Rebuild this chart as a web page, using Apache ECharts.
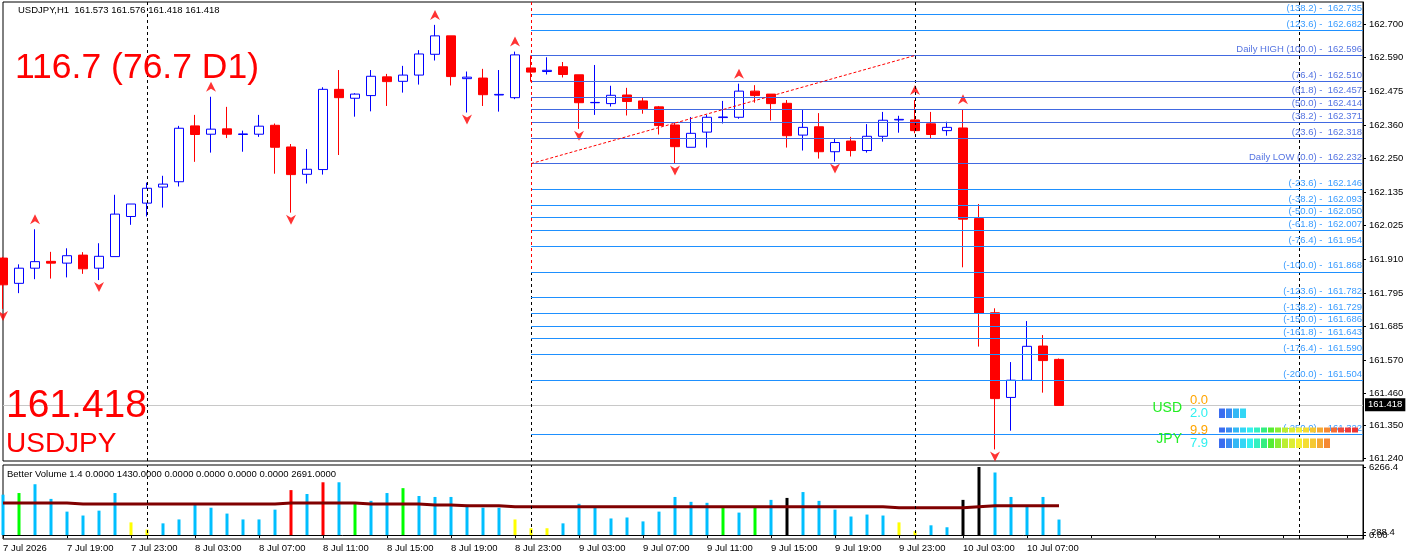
<!DOCTYPE html>
<html>
<head>
<meta charset="utf-8">
<script src="https://cdn.jsdelivr.net/npm/echarts@6/dist/echarts.min.js"></script>
<style>
  html, body { margin: 0; padding: 0; background: #fff; }
  #chart { width: 1410px; height: 560px; }
</style>
</head>
<body>
<div id="chart"></div>
<script>
// USDJPY H1 candles, 7 Jul 15:00 .. 10 Jul 09:00
const opens = [161.914,161.829,161.880,161.903,161.897,161.924,161.880,161.919,162.054,162.099,
  162.153,162.171,162.359,162.331,162.349,162.330,162.331,162.361,162.288,162.196,
  162.212,162.482,162.452,162.461,162.524,162.509,162.530,162.600,162.662,162.518,
  162.520,162.463,162.454,162.554,162.542,162.558,162.531,162.437,162.434,162.463,
  162.443,162.423,162.362,162.287,162.338,162.387,162.388,162.476,162.466,162.435,
  162.328,162.356,162.272,162.308,162.276,162.324,162.379,162.379,162.366,162.343,
  162.352,162.047,161.730,161.445,161.503,161.618,161.573];
const closes = [161.824,161.880,161.902,161.897,161.922,161.878,161.920,162.062,162.096,162.149,
  162.163,162.351,162.330,162.348,162.331,162.332,162.358,162.287,162.195,162.213,
  162.482,162.454,162.466,162.526,162.508,162.530,162.601,162.662,162.525,162.523,
  162.464,162.465,162.598,162.540,162.546,162.532,162.437,162.438,162.462,162.441,
  162.417,162.360,162.289,162.334,162.388,162.389,162.476,162.461,162.434,162.326,
  162.354,162.272,162.303,162.276,162.324,162.378,162.381,162.343,162.330,162.354,
  162.045,161.728,161.441,161.503,161.617,161.569,161.418];
const lows = [161.743,161.796,161.843,161.845,161.849,161.861,161.840,161.919,162.026,162.054,
  162.084,162.155,162.238,162.269,162.318,162.272,162.322,162.198,162.067,162.165,
  162.195,162.261,162.390,162.408,162.426,162.471,162.498,162.579,162.495,162.404,
  162.426,162.407,162.449,162.508,162.532,162.522,162.349,162.396,162.424,162.394,
  162.400,162.330,162.232,162.287,162.286,162.367,162.383,162.437,162.377,162.286,
  162.276,162.249,162.239,162.256,162.269,162.306,162.336,162.334,162.318,162.326,
  161.883,161.616,161.270,161.333,161.503,161.461,161.418];
const highs = [161.918,161.893,162.011,161.935,161.947,161.934,161.964,162.127,162.096,162.168,
  162.191,162.359,162.396,162.457,162.423,162.343,162.396,162.367,162.298,162.281,
  162.489,162.547,162.469,162.547,162.534,162.561,162.614,162.699,162.662,162.542,
  162.551,162.547,162.609,162.596,162.590,162.574,162.531,162.564,162.494,162.487,
  162.456,162.426,162.369,162.389,162.396,162.443,162.501,162.496,162.466,162.446,
  162.414,162.402,162.315,162.322,162.365,162.406,162.393,162.446,162.406,162.373,
  162.415,162.096,161.745,161.564,161.702,161.655,161.576];

// fractal arrows (bar indexes)
const fractalUp = [2, 13, 27, 32, 46, 57, 60];
const fractalDown = [0, 6, 18, 29, 36, 42, 52, 62];

// Better Volume
const volumes = [3720,3870,4680,3330,2160,1800,2250,3870,1170,510,
  1080,1440,2850,2520,1980,1440,1440,2340,4140,3780,
  4860,4860,2880,3150,3870,4320,3600,3510,3510,2790,
  2520,2520,1440,630,630,1080,2880,2520,1530,1620,
  1260,2160,3510,3060,2970,2520,2070,2520,3240,3420,
  3960,3150,2340,1710,1890,1800,1170,360,900,720,
  3240,6266,5760,3510,2700,3510,1430];
// b = normal, g = churn, y = low, r = climax, k = climax churn
const volumeKind = 'bgbbbbbbyybbbbbbbbrbrbgbbgbbbbbbyyybbbbbbbbbbgbgbkbbbbbbyybbkkbbbbb'.split('');
const volumeMA = [2960,2960,2960,2960,2960,2870,2870,2870,2870,2870,
  2870,2870,2870,2870,2870,2870,2870,2870,2960,2960,
  2960,2960,2960,2870,2870,2870,2870,2780,2780,2700,
  2700,2700,2610,2610,2610,2610,2610,2610,2610,2610,
  2610,2610,2610,2610,2610,2610,2610,2610,2610,2610,
  2610,2610,2610,2610,2610,2610,2520,2520,2520,2520,
  2520,2610,2691,2691,2691,2691,2691];

// fibo levels of 9 Jul
const fibRatios = [138.2, 123.6, 100.0, 76.4, 61.8, 50.0, 38.2, 23.6, 0.0, -23.6, -38.2, -50.0,
  -61.8, -76.4, -100.0, -123.6, -138.2, -150.0, -161.8, -176.4, -200.0, -250.0];
const fibPrices = [162.735, 162.682, 162.596, 162.510, 162.457, 162.414, 162.371, 162.318, 162.232,
  162.146, 162.093, 162.050, 162.007, 161.954, 161.868, 161.782, 161.729, 161.686, 161.643,
  161.590, 161.504, 161.322];

// axis ticks
const yTickValues = [162.700, 162.590, 162.475, 162.360, 162.250, 162.135, 162.025, 161.910,
  161.795, 161.685, 161.570, 161.460, 161.350, 161.240];
const volTickValues = [6266.4, 0];
const volMinTick = [288.4];
const xTickLabels = ['7 Jul 2026', '7 Jul 19:00', '7 Jul 23:00', '8 Jul 03:00', '8 Jul 07:00',
  '8 Jul 11:00', '8 Jul 15:00', '8 Jul 19:00', '8 Jul 23:00', '9 Jul 03:00', '9 Jul 07:00',
  '9 Jul 11:00', '9 Jul 15:00', '9 Jul 19:00', '9 Jul 23:00', '10 Jul 03:00', '10 Jul 07:00'];
const daySeparators = [9, 33, 57, 81];

// currency strength widget
const strengthNames = ['USD', 'JPY'];
const strengthUpper = [0.0, 9.9];
const strengthLower = [2.0, 7.9];

const slotCount = 86;
const categories = Array.from({ length: slotCount }, (_, i) => String(i));
const last = closes.length - 1;
const fibStart = 33, fibEnd = 57;
const yMin = 161.231, yMax = 162.776;
const volMin = -360, volMax = 6450;
const FONT = 'Liberation Sans, Arial, sans-serif';

const kindColor = { b: '#00bfff', g: '#00ff00', y: '#ffff00', r: '#ff0000', k: '#000000' };
const cellColors = ['#3a6df0', '#3a8af2', '#33b8f5', '#33d6f5', '#33f0f0', '#33f0c0', '#33ee80',
  '#55ee33', '#88ee33', '#bbee33', '#ddee33', '#f5f033', '#f5dd33', '#f5c833', '#f5a833',
  '#f58833', '#f56a33', '#f04a3a', '#ee3a3a', '#ee3333'];

const chart = echarts.init(document.getElementById('chart'));

function fibText(i) {
  const r = fibRatios[i];
  const name = r === 100 ? 'Daily HIGH ' : (r === 0 ? 'Daily LOW ' : '');
  return name + '(' + r.toFixed(1) + ') -  ' + fibPrices[i].toFixed(3);
}

const fibLines = fibRatios.map((r, i) => {
  const inner = r >= 0 && r <= 100;
  return [
    {
      coord: [String(fibStart), fibPrices[i]],
      lineStyle: { color: inner ? '#4169e1' : '#1e90ff', width: 1, type: 'solid' },
      label: {
        show: true, position: 'insideEndTop', formatter: fibText(i),
        color: inner ? '#5574e2' : '#3a9cff', fontSize: 9.5, fontFamily: FONT, distance: [1, 1]
      }
    },
    { coord: [String(slotCount - 1), fibPrices[i]] }
  ];
});

// trend line of the fibo object and its red vertical
fibLines.push([
  { coord: [String(fibStart), fibPrices[8]], lineStyle: { color: '#ff0000', width: 1, type: [3, 2] }, label: { show: false } },
  { coord: [String(fibEnd), fibPrices[2]] }
]);
fibLines.push([
  { coord: [String(fibStart), yMax], lineStyle: { color: '#ff0000', width: 1, type: [3, 3] }, label: { show: false } },
  { coord: [String(fibStart), fibPrices[14]] }
]);

// strength widget graphics
const widget = [];
strengthNames.forEach((name, k) => {
  const baseY = 400 + 30 * k;
  widget.push({
    type: 'text', x: 1182, y: baseY + 8 + k, z: 100,
    style: { text: name, fill: '#22ee22', font: '14px ' + FONT, align: 'right', verticalAlign: 'middle' }
  });
  widget.push({
    type: 'text', x: 1190, y: baseY, z: 100,
    style: { text: strengthUpper[k].toFixed(1), fill: '#ffa500', font: '13px ' + FONT, verticalAlign: 'middle' }
  });
  widget.push({
    type: 'text', x: 1190, y: baseY + 13, z: 100,
    style: { text: strengthLower[k].toFixed(1), fill: '#2ef0f0', font: '13px ' + FONT, verticalAlign: 'middle' }
  });
  const nUp = Math.round(strengthUpper[k] * 2);
  for (let j = 0; j < nUp; j++) {
    widget.push({ type: 'rect', z: 100, shape: { x: 1219 + j * 7, y: baseY - 2.5, width: 6, height: 5 },
      style: { fill: cellColors[j] } });
  }
  const nLo = Math.round(strengthLower[k] * 2);
  for (let j = 0; j < nLo; j++) {
    widget.push({ type: 'rect', z: 100, shape: { x: 1219 + j * 7, y: baseY + 8.5, width: 6, height: 9.5 },
      style: { fill: cellColors[j] } });
  }
});

const f3 = v => v.toFixed(3);

chart.setOption({
  animation: false,
  backgroundColor: '#ffffff',
  grid: [
    { left: 3, right: 47, top: 2, height: 459, show: true, borderColor: '#000', borderWidth: 1, outerBoundsMode: 'none' },
    { left: 3, right: 47, top: 465, height: 74, show: true, borderColor: '#000', borderWidth: 1, outerBoundsMode: 'none' }
  ],
  xAxis: [
    { type: 'category', gridIndex: 0, data: categories, boundaryGap: false, show: false },
    {
      type: 'category', gridIndex: 1, data: categories, boundaryGap: false,
      axisLine: { show: true, lineStyle: { color: '#000' } },
      axisTick: { show: true, interval: 3, length: 3, lineStyle: { color: '#000' } },
      axisLabel: {
        interval: 3, align: 'left', margin: 4, color: '#000', fontSize: 9.5, fontFamily: FONT,
        formatter: (v, i) => xTickLabels[i / 4] || ''
      },
      splitLine: { show: false }
    }
  ],
  yAxis: [
    {
      type: 'value', gridIndex: 0, position: 'right', min: yMin, max: yMax, scale: true,
      splitLine: { show: false },
      axisLine: { show: true, lineStyle: { color: '#000' } },
      axisTick: { show: true, length: 3, customValues: yTickValues, lineStyle: { color: '#000' } },
      axisLabel: { customValues: yTickValues, formatter: f3, color: '#000', fontSize: 9.5, fontFamily: FONT, margin: 6, hideOverlap: false }
    },
    {
      type: 'value', gridIndex: 1, position: 'right', min: volMin, max: volMax,
      splitLine: { show: false },
      axisLine: { show: true, lineStyle: { color: '#000' } },
      axisTick: { show: true, length: 3, customValues: volTickValues, lineStyle: { color: '#000' } },
      axisLabel: {
        customValues: volTickValues, color: '#000', fontSize: 9.5, fontFamily: FONT, margin: 6,
        hideOverlap: false, showMinLabel: true, showMaxLabel: true,
        formatter: v => (v === 0 ? '0.00' : v.toFixed(1))
      }
    },
    {
      // second label set of the volume pane (its minimum line)
      type: 'value', gridIndex: 1, position: 'right', min: volMin, max: volMax,
      splitLine: { show: false }, axisLine: { show: false },
      axisTick: { show: true, length: 3, customValues: volMinTick, lineStyle: { color: '#000' } },
      axisLabel: {
        customValues: volMinTick, color: '#000', fontSize: 9.5, fontFamily: FONT, margin: 8,
        formatter: v => v.toFixed(1)
      }
    }
  ],
  series: [
    {
      // fibo levels, separators
      type: 'line', xAxisIndex: 0, yAxisIndex: 0, data: [], z: 1, silent: true,
      markLine: {
        symbol: 'none', silent: true, animation: false,
        data: daySeparators.map(d => ({ xAxis: String(d), lineStyle: { color: '#000', width: 1, type: [3, 3] }, label: { show: false } }))
          .concat(fibLines)
      }
    },
    {
      type: 'candlestick', xAxisIndex: 0, yAxisIndex: 0, barWidth: 10, z: 3,
      data: opens.map((o, i) => [o, closes[i], lows[i], highs[i]]),
      itemStyle: { color: '#ffffff', color0: '#ff0000', borderColor: '#0000ff', borderColor0: '#ff0000', borderWidth: 1 },
      markLine: {
        symbol: 'none', silent: true, animation: false, z: 0,
        data: [{
          yAxis: closes[last],
          lineStyle: { color: '#c8c8c8', width: 1, type: 'solid' },
          label: {
            show: true, position: 'end', formatter: f3(closes[last]), distance: 2,
            backgroundColor: '#000', color: '#fff', fontSize: 9.5, fontFamily: FONT, padding: [2, 3, 1, 3]
          }
        }]
      }
    },
    {
      type: 'scatter', xAxisIndex: 0, yAxisIndex: 0, z: 4, silent: true,
      symbol: 'path://M5,0 L10,10 L5,7 L0,10 Z', symbolSize: [10, 10], symbolOffset: [0, -10],
      itemStyle: { color: '#ff0000' },
      data: fractalUp.map(i => [String(i), highs[i]])
    },
    {
      type: 'scatter', xAxisIndex: 0, yAxisIndex: 0, z: 4, silent: true,
      symbol: 'path://M0,0 L5,3 L10,0 L5,10 Z', symbolSize: [10, 10], symbolOffset: [0, 7],
      itemStyle: { color: '#ff0000' },
      data: fractalDown.map(i => [String(i), lows[i]])
    },
    {
      type: 'bar', xAxisIndex: 1, yAxisIndex: 1, barWidth: 3, z: 2,
      data: volumes.map((v, i) => ({ value: v, itemStyle: { color: kindColor[volumeKind[i]] } })),
      markLine: {
        symbol: 'none', silent: true, animation: false,
        data: daySeparators.map(d => ({ xAxis: String(d), lineStyle: { color: '#000', width: 1, type: [3, 3] }, label: { show: false } }))
      }
    },
    {
      type: 'line', xAxisIndex: 1, yAxisIndex: 1, z: 3, symbol: 'none', showSymbol: false,
      lineStyle: { color: '#800000', width: 3 },
      data: volumeMA
    }
  ],
  graphic: [
    { type: 'text', x: 18, y: 10, z: 100, style: {
      text: 'USDJPY,H1  ' + [opens[last], highs[last], lows[last], closes[last]].map(f3).join(' '),
      fill: '#000', font: '9.5px ' + FONT, verticalAlign: 'middle' } },
    { type: 'text', x: 15, y: 68, z: 100, style: { text: '116.7 (76.7 D1)', fill: '#ff0000', font: '35.5px ' + FONT, verticalAlign: 'middle' } },
    { type: 'text', x: 6, y: 406, z: 100, style: { text: f3(closes[last]), fill: '#ff0000', font: '39px ' + FONT, verticalAlign: 'middle' } },
    { type: 'text', x: 6, y: 444, z: 100, style: { text: 'USDJPY', fill: '#ff0000', font: '28px ' + FONT, verticalAlign: 'middle' } },
    { type: 'text', x: 7, y: 474, z: 100, style: {
      text: 'Better Volume 1.4 0.0000 ' + volumes[last].toFixed(4) + ' 0.0000 0.0000 0.0000 0.0000 ' + volumeMA[last].toFixed(4),
      fill: '#000', font: '9.5px ' + FONT, verticalAlign: 'middle' } }
  ].concat(widget)
});
</script>
</body>
</html>
